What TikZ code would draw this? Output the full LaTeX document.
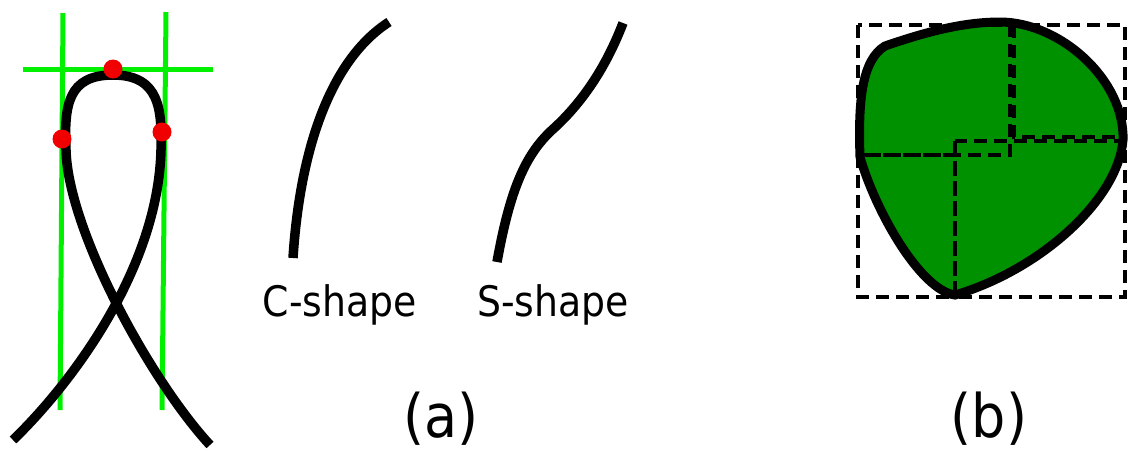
\documentclass[tikz,border=0pt]{standalone}
\usepackage{fontspec}
\setmainfont{DejaVu Sans Condensed}
\definecolor{lgreen}{RGB}{0,240,0}
\definecolor{dgreen}{RGB}{0,145,0}
\definecolor{dotred}{RGB}{240,0,0}
\tikzset{
  curve/.style={line width=9.5pt, black},
  guide/.style={line width=5pt, lgreen},
  dot/.style={circle, fill=dotred, inner sep=0pt, minimum size=19pt},
  box/.style={line width=4.5pt, dash pattern=on 13pt off 7pt},
  lbl/.style={anchor=base, font=\fontsize{42}{44}\selectfont},
  captext/.style={anchor=base, font=\fontsize{60}{64}\selectfont}
}
\begin{document}
\begin{tikzpicture}[x=1pt,y=-1pt]
\useasboundingbox (0,0) rectangle (1128,451);
% left loop
\draw[guide] (63,13) -- (60,410);
\draw[guide] (166,12) -- (162,410);
\draw[guide] (23,69) -- (213,69);
\draw[curve] (13,440) .. controls (70,385) and (158,270) .. (161,150)
  .. controls (162,110) and (160,75) .. (113,75)
  .. controls (68,75) and (64,105) .. (66,150)
  .. controls (68,230) and (150,380) .. (210,445);
\node[dot] (d1) at (113,69) {};
\node[dot] (d2) at (62,139) {};
\node[dot] (d3) at (162,132) {};
% C and S shapes
\draw[curve] (293,258) .. controls (300,150) and (330,60) .. (389,22);
\draw[curve] (497,262) .. controls (510,190) and (525,155) .. (552,130)
  .. controls (580,105) and (605,70) .. (623,23);
\node[lbl] (cs) at (340,316) {C-shape};
\node[lbl] (ss) at (553,316) {S-shape};
\node[captext] (la) at (441,437) {(a)};
\node[captext] (lb) at (989,437) {(b)};
% blob
\draw[line width=9pt, fill=dgreen] (860,157) .. controls (858,100) and (862,60) .. (885,46)
  .. controls (920,34) and (960,22) .. (1000,22)
  .. controls (1060,22) and (1125,80) .. (1123,140)
  .. controls (1118,200) and (1040,270) .. (955,295)
  .. controls (920,290) and (875,210) .. (860,157) -- cycle;
\draw[box] (858,25) rectangle (1010,155);
\draw[box] (1014,25) rectangle (1125,137);
\draw[box] (955,141) rectangle (1125,297);
\draw[box] (858,155) rectangle (955,297);
\end{tikzpicture}
\end{document}
